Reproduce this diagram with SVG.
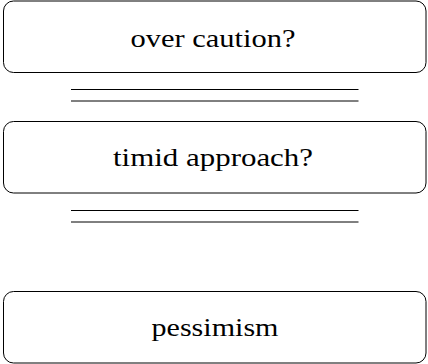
<svg xmlns="http://www.w3.org/2000/svg" width="428" height="364" viewBox="0 0 428 364">
<style>
.box{fill:#fff;stroke:#000;stroke-width:1}
.lbl{font-family:"Liberation Serif","DejaVu Serif",serif;font-size:26px;fill:#000;text-anchor:middle}
.conn line{stroke:#000;stroke-width:1}
</style>
<rect width="428" height="364" fill="#fff"/>
<g id="node-over-caution">
<rect class="box" x="3.5" y="1" width="422.5" height="71.5" rx="10"/>
<text class="lbl" x="213" y="47" textLength="165" lengthAdjust="spacingAndGlyphs">over caution?</text>
</g>
<g id="node-timid-approach">
<rect class="box" x="3.5" y="121.5" width="422.5" height="71.5" rx="10"/>
<text class="lbl" x="213" y="166" textLength="200" lengthAdjust="spacingAndGlyphs">timid approach?</text>
</g>
<g id="node-pessimism">
<rect class="box" x="3.5" y="291.5" width="422.5" height="71.5" rx="10"/>
<text class="lbl" x="215" y="336" textLength="127" lengthAdjust="spacingAndGlyphs">pessimism</text>
</g>
<g id="connectors" class="conn">
<line x1="71" y1="89.5" x2="358.5" y2="89.5"/>
<line x1="71" y1="101" x2="358.5" y2="101"/>
<line x1="71" y1="210.5" x2="358.5" y2="210.5"/>
<line x1="71" y1="222" x2="358.5" y2="222"/>
</g>
</svg>
